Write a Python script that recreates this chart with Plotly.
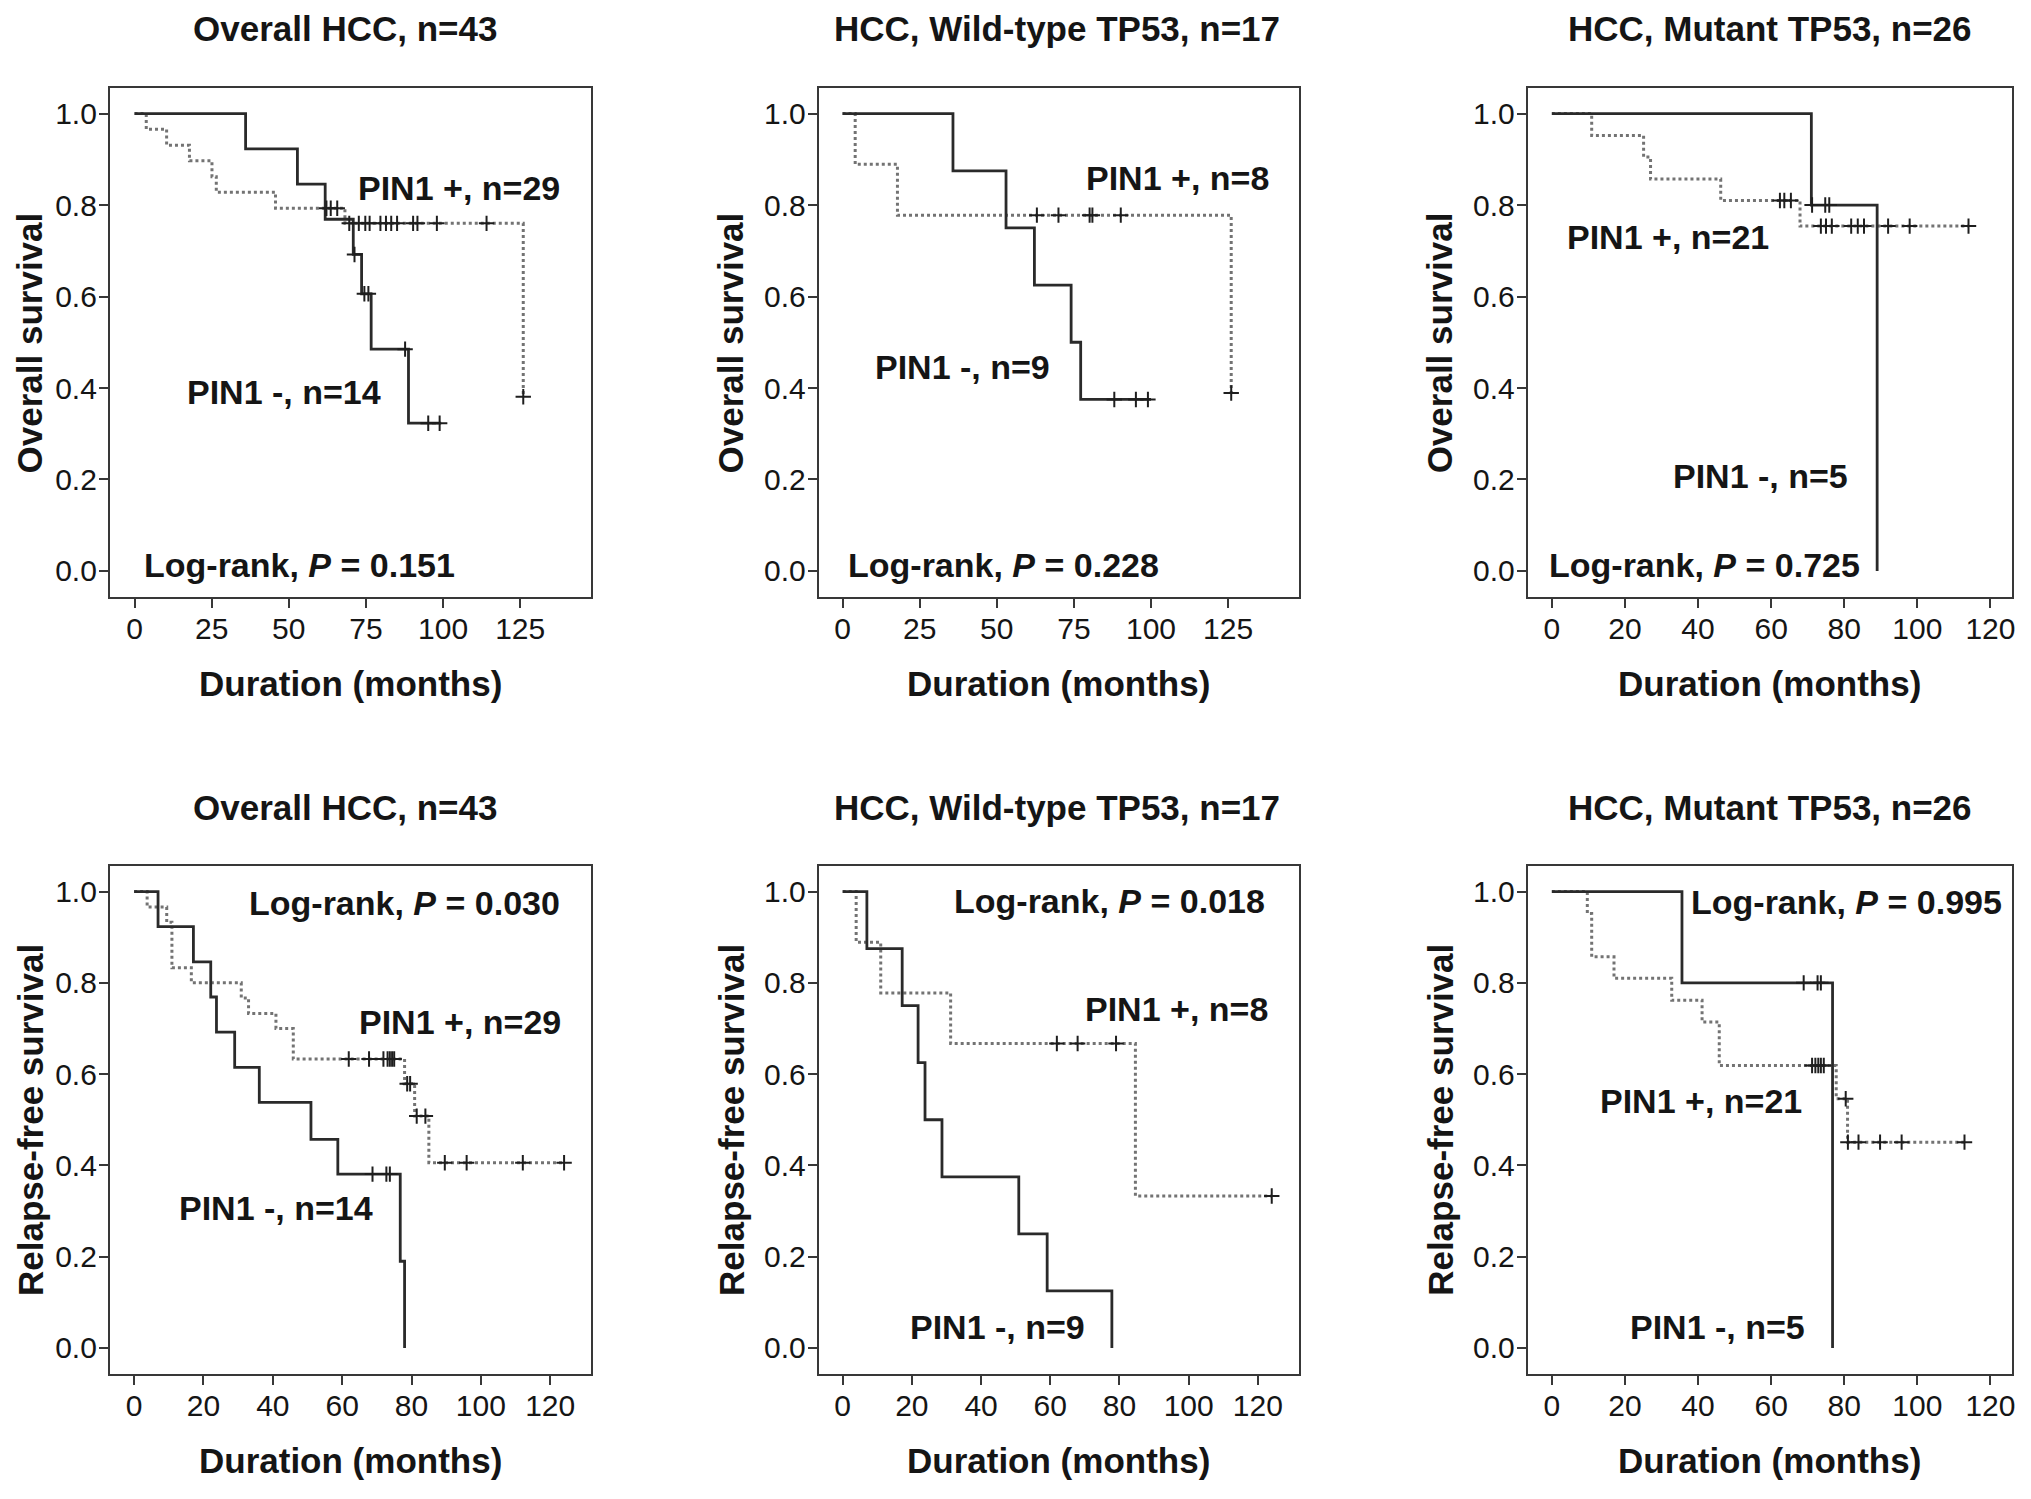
import numpy as np
import plotly.graph_objects as go
from plotly.subplots import make_subplots

# overall survival, all HCC
os_all_neg_t = [0, 36.0, 52.8, 61.8, 70.9, 73.6, 76.7, 88.8, 99.4]
os_all_neg_s = [1.0, 0.923, 0.846, 0.769, 0.692, 0.606, 0.485, 0.323, 0.323]
os_all_neg_cens = [71.3, 74.5, 75.8, 87.7, 95.2, 98.9]
os_all_pos_t = [0, 3.8, 10.4, 17.8, 25.1, 26.5, 45.7, 68.2, 126.0]
os_all_pos_s = [1.0, 0.966, 0.931, 0.897, 0.862, 0.828, 0.793, 0.760, 0.381]
os_all_pos_cens = [62.2, 63.6, 65.7, 69.6, 72.7, 74.8, 76.2, 79.7, 81.5, 83.2, 85.1,
                   90.3, 91.7, 98.0, 114.1, 126.0]

# overall survival, wild-type TP53
os_wt_neg_t = [0, 35.8, 53.0, 62.2, 74.1, 77.2, 100.0]
os_wt_neg_s = [1.0, 0.875, 0.75, 0.625, 0.5, 0.375, 0.375]
os_wt_neg_cens = [88.1, 95.1, 99.0]
os_wt_pos_t = [0, 4.1, 17.8, 126.0]
os_wt_pos_s = [1.0, 0.889, 0.778, 0.389]
os_wt_pos_cens = [63.0, 70.0, 80.1, 81.0, 90.2, 126.0]

# overall survival, mutant TP53
os_mut_neg_t = [0, 71.0, 89.0]
os_mut_neg_s = [1.0, 0.8, 0.0]
os_mut_neg_cens = [71.2, 74.8, 75.9]
os_mut_pos_t = [0, 10.9, 25.1, 27.0, 46.2, 67.9, 114.0]
os_mut_pos_s = [1.0, 0.952, 0.905, 0.857, 0.810, 0.754, 0.754]
os_mut_pos_cens = [62.4, 63.6, 65.4, 73.6, 75.0, 76.6, 81.9, 83.7, 85.4, 92.0, 97.9, 114.0]

# relapse-free survival, all HCC
rfs_all_neg_t = [0, 6.9, 17.1, 22.1, 23.75, 29.0, 36.1, 51.0, 58.75, 76.75, 78.0]
rfs_all_neg_s = [1.0, 0.923, 0.846, 0.769, 0.692, 0.615, 0.538, 0.457, 0.381, 0.19, 0.0]
rfs_all_neg_cens = [68.75, 72.75, 73.75]
rfs_all_pos_t = [0, 3.75, 9.4, 10.9, 16.5, 30.9, 33.0, 40.9, 45.9, 78.0, 80.9, 85.0, 124.0]
rfs_all_pos_s = [1.0, 0.966, 0.933, 0.833, 0.80, 0.767, 0.733, 0.70, 0.633, 0.579, 0.508,
                 0.406, 0.406]
rfs_all_pos_cens = [61.9, 67.75, 71.9, 73.1, 73.75, 74.4, 75.0, 78.75, 79.6, 81.5, 84.0,
                    89.6, 95.9, 112.1, 124.0]

# relapse-free survival, wild-type TP53
rfs_wt_neg_t = [0, 7.0, 17.2, 21.8, 23.8, 28.7, 50.9, 59.1, 77.8]
rfs_wt_neg_s = [1.0, 0.875, 0.75, 0.625, 0.5, 0.375, 0.25, 0.125, 0.0]
rfs_wt_neg_cens = []
rfs_wt_pos_t = [0, 3.9, 11.0, 31.2, 84.6, 124.0]
rfs_wt_pos_s = [1.0, 0.889, 0.778, 0.667, 0.333, 0.333]
rfs_wt_pos_cens = [61.9, 67.9, 79.0, 124.0]

# relapse-free survival, mutant TP53
rfs_mut_neg_t = [0, 35.6, 76.8]
rfs_mut_neg_s = [1.0, 0.8, 0.0]
rfs_mut_neg_cens = [68.9, 72.7, 73.6]
rfs_mut_pos_t = [0, 9.7, 10.9, 17.0, 32.8, 41.1, 45.8, 77.8, 80.9, 112.9]
rfs_mut_pos_s = [1.0, 0.952, 0.857, 0.810, 0.762, 0.714, 0.619, 0.546, 0.451, 0.451]
rfs_mut_pos_cens = [71.2, 72.1, 72.9, 73.6, 74.4, 80.4, 81.0, 83.9, 89.8, 95.7, 112.9]

titles = ["Overall HCC, n=43", "HCC, Wild-type TP53, n=17", "HCC, Mutant TP53, n=26"] * 2
y_titles = ["Overall survival"] * 3 + ["Relapse-free survival"] * 3
pos_labels = ["PIN1 +, n=29", "PIN1 +, n=8", "PIN1 +, n=21"] * 2
neg_labels = ["PIN1 -, n=14", "PIN1 -, n=9", "PIN1 -, n=5"] * 2
p_values = ["0.151", "0.228", "0.725", "0.030", "0.018", "0.995"]

FONT = "Liberation Sans, Arial, sans-serif"
INK = "#151515"
FRAME = "#383838"

panels = [
    (os_all_neg_t, os_all_neg_s, os_all_neg_cens, os_all_pos_t, os_all_pos_s, os_all_pos_cens),
    (os_wt_neg_t, os_wt_neg_s, os_wt_neg_cens, os_wt_pos_t, os_wt_pos_s, os_wt_pos_cens),
    (os_mut_neg_t, os_mut_neg_s, os_mut_neg_cens, os_mut_pos_t, os_mut_pos_s, os_mut_pos_cens),
    (rfs_all_neg_t, rfs_all_neg_s, rfs_all_neg_cens, rfs_all_pos_t, rfs_all_pos_s, rfs_all_pos_cens),
    (rfs_wt_neg_t, rfs_wt_neg_s, rfs_wt_neg_cens, rfs_wt_pos_t, rfs_wt_pos_s, rfs_wt_pos_cens),
    (rfs_mut_neg_t, rfs_mut_neg_s, rfs_mut_neg_cens, rfs_mut_pos_t, rfs_mut_pos_s, rfs_mut_pos_cens),
]

# page pixels -> paper fractions (the page body adds an 8px margin)
W, H, PAD = 2015, 1483, 8


def fx(px):
    return (px - PAD) / W


def fy(py):
    return 1 - (py - PAD) / H


col_px = [(110, 592), (820, 1301), (1530, 2015)]
row_px = [(88, 597), (866, 1374)]
col_domains = [[fx(a), fx(b)] for a, b in col_px]
row_domains = [[fy(b), fy(a)] for a, b in row_px]
title_px_x = [346, 1059, 1773]
title_px_y = [29, 807]
xtitle_px_y = [683, 1460]
ytitle_px_x = [30, 732, 1442]

x_ranges = [[-8, 148], [-7.7, 148], [-6.6, 125.9], [-7, 131.8], [-6.9, 131.9], [-6.6, 125.9]]
x_dticks = [25, 25, 20, 20, 20, 20]
pos_xy = [(105.1, 0.837), (108.7, 0.859), (31.7, 0.731), (94, 0.714), (96.5, 0.742), (40.7, 0.541)]
neg_xy = [(48.5, 0.391), (39.0, 0.446), (57.0, 0.208), (40.9, 0.307), (44.7, 0.046), (45.2, 0.046)]
p_xy = [(53.4, 0.013), (52.3, 0.013), (41.7, 0.013), (78, 0.974), (77.2, 0.979), (80.7, 0.977)]


def level_at(t_steps, s_steps, times):
    idx = np.searchsorted(t_steps, times, side="right") - 1
    return np.array(s_steps)[idx]


fig = make_subplots(rows=2, cols=3)
annotations = []

for i, (nt, ns, nc, pt, ps, pc) in enumerate(panels):
    row, col = i // 3 + 1, i % 3 + 1
    ax = "" if i == 0 else str(i + 1)

    fig.add_trace(go.Scatter(x=pt, y=ps, mode="lines", line_shape="hv",
                             line=dict(color="#737373", width=3, dash="3px,3px")),
                  row=row, col=col)
    fig.add_trace(go.Scatter(x=nt, y=ns, mode="lines", line_shape="hv",
                             line=dict(color="#2a2a2a", width=2.8)),
                  row=row, col=col)
    for cens, ts, ss in [(pc, pt, ps), (nc, nt, ns)]:
        if len(cens) == 0:
            continue
        fig.add_trace(go.Scatter(x=cens, y=level_at(ts, ss, cens), mode="markers",
                                 marker=dict(symbol="cross-thin", size=11,
                                             line=dict(color="#1e1e1e", width=2))),
                      row=row, col=col)

    fig.update_xaxes(domain=col_domains[col - 1], range=x_ranges[i],
                     tickmode="linear", tick0=0, dtick=x_dticks[i],
                     ticklabelstandoff=-5, row=row, col=col)
    fig.update_yaxes(domain=row_domains[row - 1], range=[-0.057, 1.056],
                     tickmode="linear", tick0=0, dtick=0.2, tickformat=".1f",
                     ticklabelstandoff=-4, row=row, col=col)

    text_font = dict(family=FONT, size=34, color=INK)
    for txt, (tx, ty) in [(pos_labels[i], pos_xy[i]), (neg_labels[i], neg_xy[i]),
                          ("Log-rank, <i>P</i> = " + p_values[i], p_xy[i])]:
        annotations.append(dict(text="<b>" + txt + "</b>", x=tx, y=ty, xref="x" + ax,
                                yref="y" + ax, showarrow=False, font=text_font,
                                xanchor="center", yanchor="middle"))

    a, b = col_px[col - 1]
    r0, r1 = row_px[row - 1]
    annotations.append(dict(text="<b>" + titles[i] + "</b>",
                            x=fx(title_px_x[col - 1]), y=fy(title_px_y[row - 1]),
                            font=dict(family=FONT, size=35, color=INK)))
    annotations.append(dict(text="<b>Duration (months)</b>",
                            x=fx((a + b) / 2), y=fy(xtitle_px_y[row - 1]),
                            font=dict(family=FONT, size=35, color=INK)))
    annotations.append(dict(text="<b>" + y_titles[i] + "</b>",
                            x=fx(ytitle_px_x[col - 1]), y=fy((r0 + r1) / 2),
                            textangle=-90, font=dict(family=FONT, size=35, color=INK)))

for ann in annotations:
    if "xref" not in ann:
        ann.update(xref="paper", yref="paper", showarrow=False,
                   xanchor="center", yanchor="middle")

axis_style = dict(showline=True, mirror=True, linecolor=FRAME, linewidth=2,
                  ticks="outside", ticklen=9, tickwidth=2, tickcolor=FRAME,
                  showgrid=False, zeroline=False,
                  tickfont=dict(family=FONT, size=30, color=INK))
fig.update_xaxes(**axis_style)
fig.update_yaxes(**axis_style)

fig.update_layout(
    width=W, height=H, autosize=False,
    margin=dict(l=0, r=0, t=0, b=0),
    plot_bgcolor="white", paper_bgcolor="white",
    showlegend=False,
    annotations=annotations,
)

fig.write_html("out.html")
